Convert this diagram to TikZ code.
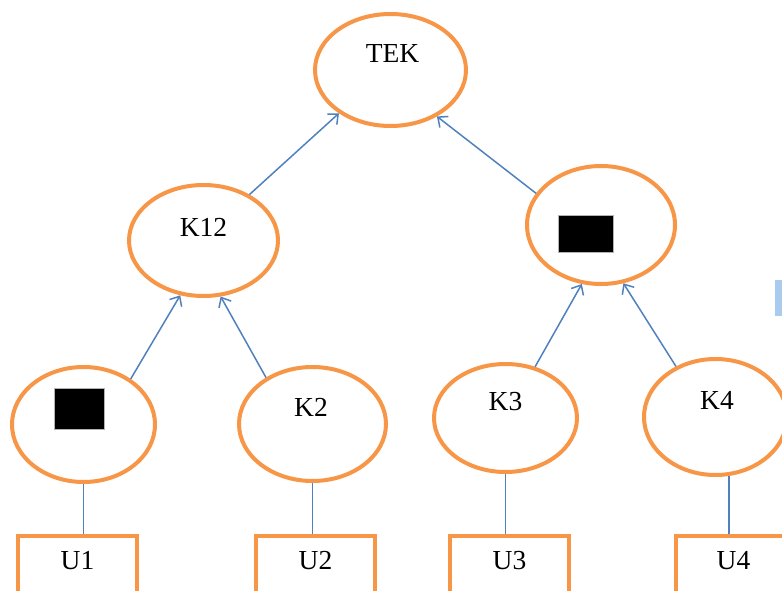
\documentclass[tikz,border=0pt]{standalone}
\usepackage{fontspec}
\setmainfont{Liberation Serif}
\usetikzlibrary{shapes.geometric,arrows.meta}
\definecolor{nodeorange}{HTML}{F79646}
\definecolor{linkblue}{HTML}{4F81BD}
\definecolor{tabblue}{HTML}{A9CCEE}

\begin{document}
\begin{tikzpicture}[x=1pt,y=-1pt,
  keynode/.style={ellipse, draw=nodeorange, line width=4pt, inner sep=0pt, fill=white},
  userbox/.style={rectangle, draw=nodeorange, line width=4pt, inner sep=0pt,
                  minimum width=119pt, minimum height=120pt, anchor=north},
  link/.style={draw=linkblue, line width=1.5pt},
  uplink/.style={link, -{Straight Barb[length=8pt,width=14pt]}},
  keytext/.style={font=\fontsize{27.5}{32}\selectfont},
  hidden/.style={fill=black, draw=gray!60, line width=0.6pt, inner sep=0pt},
]
\useasboundingbox (0,0) rectangle (782,591);
\clip (0,0) rectangle (782,591);

% key tree
\node[keynode, minimum width=151pt, minimum height=112pt,
      label={[keytext, xshift=2pt, yshift=17pt]center:TEK}] (tek) at (390.5,70) {};
\node[keynode, minimum width=149pt, minimum height=111pt,
      label={[keytext, yshift=13.5pt]center:K12}] (k12) at (203.5,240.5) {};
\node[keynode, minimum width=148pt, minimum height=118pt,
      label={[hidden, minimum width=55pt, minimum height=37pt, xshift=-15.2pt, yshift=-8.3pt]center:{}}] (k34) at (601,225) {};
\node[keynode, minimum width=143pt, minimum height=115pt,
      label={[hidden, minimum width=50pt, minimum height=41pt, xshift=-4.5pt, yshift=16pt]center:{}}] (k1) at (83.5,424.5) {};
\node[keynode, minimum width=147pt, minimum height=114pt,
      label={[keytext, xshift=-1.5pt, yshift=17pt]center:K2}] (k2) at (312.5,424) {};
\node[keynode, minimum width=143pt, minimum height=108pt,
      label={[keytext, yshift=16pt]center:K3}] (k3) at (505.5,418) {};
\node[keynode, minimum width=143pt, minimum height=116pt,
      label={[keytext, xshift=1.5pt, yshift=17pt]center:K4}] (k4) at (715.5,417) {};

% users
\node[userbox, label={[keytext, yshift=34.5pt]center:U1}] (u1) at (77.5,533.5) {};
\node[userbox, label={[keytext, yshift=34.5pt]center:U2}] (u2) at (315.5,533.5) {};
\node[userbox, label={[keytext, yshift=34.5pt]center:U3}] (u3) at (509.5,533.5) {};
\node[userbox, label={[keytext, xshift=-2pt, yshift=34.5pt]center:U4}] (u4) at (735.5,533.5) {};

% side marker
\node[fill=tabblue, inner sep=0pt, minimum width=10pt, minimum height=36pt, anchor=north west] (tab) at (775,280) {};

% key derivation arrows
\draw[uplink] (k12.45.6) -- (tek.220.1);
\draw[uplink] (k34.154.1) -- (tek.315.9);
\draw[uplink] (k1.44.4) -- (k12.247.3);
\draw[uplink] (k2.135.3) -- (k12.287.5);
\draw[uplink] (k3.60.9) -- (k34.252.2);
\draw[uplink] (k4.128.3) -- (k34.291.5);

% user attachments
\draw[link] (k1.south) -- (k1.south |- u1.north);
\draw[link] (k2.south) -- (k2.south |- u2.north);
\draw[link] (k3.south) -- (k3.south |- u3.north);
\draw[link] (k4.-77) -- (k4.-77 |- u4.north);
\end{tikzpicture}
\end{document}
